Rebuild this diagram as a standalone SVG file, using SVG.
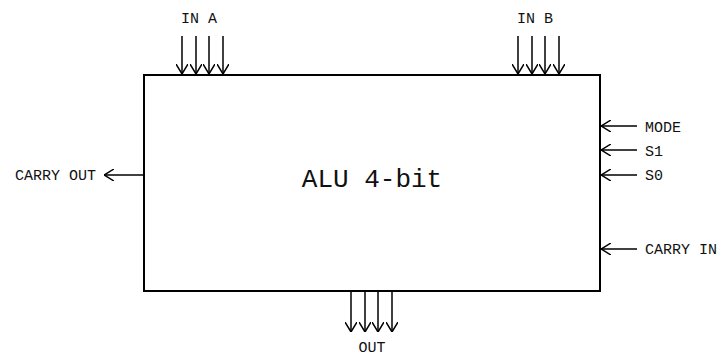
<svg xmlns="http://www.w3.org/2000/svg" width="721" height="356" viewBox="0 0 721 356">
<defs>
<marker id="ah" viewBox="0 0 10 12" refX="10" refY="6" markerWidth="10" markerHeight="12" markerUnits="userSpaceOnUse" orient="auto">
<path d="M0,0 L10,6 L0,12" fill="none" stroke="#000" stroke-width="1.5"/>
</marker>
<style>
.w{stroke:#000;stroke-width:1.5;fill:none;marker-end:url(#ah)}
.t{font-family:"Liberation Mono","DejaVu Sans Mono",monospace;font-size:15px;fill:#111}
.big{font-family:"Liberation Mono","DejaVu Sans Mono",monospace;font-size:26px;fill:#111}
</style>
</defs>
<rect width="721" height="356" fill="#fff"/>
<g id="alu">
<rect x="144" y="75" width="456" height="216" fill="#fff" stroke="#000" stroke-width="2"/>
<text class="big" x="372" y="187" text-anchor="middle">ALU 4-bit</text>
</g>
<g id="connectors">
<path class="w" d="M182,36V74"/><path class="w" d="M196,36V74"/><path class="w" d="M209,36V74"/><path class="w" d="M223,36V74"/>
<path class="w" d="M518,36V74"/><path class="w" d="M532,36V74"/><path class="w" d="M545,36V74"/><path class="w" d="M559,36V74"/>
<path class="w" d="M351,292V332"/><path class="w" d="M365,292V332"/><path class="w" d="M378,292V332"/><path class="w" d="M392,292V332"/>
<path class="w" d="M637,126H601"/>
<path class="w" d="M637,150H601"/>
<path class="w" d="M637,175H601"/>
<path class="w" d="M637,249H601"/>
<path class="w" d="M143,175H104"/>
</g>
<g id="labels">
<text class="t" x="199" y="23" text-anchor="middle">IN A</text>
<text class="t" x="535" y="23" text-anchor="middle">IN B</text>
<text class="t" x="372" y="352" text-anchor="middle">OUT</text>
<text class="t" x="645" y="132">MODE</text>
<text class="t" x="645" y="156">S1</text>
<text class="t" x="645" y="180">S0</text>
<text class="t" x="645" y="254">CARRY IN</text>
<text class="t" x="96" y="180" text-anchor="end">CARRY OUT</text>
</g>
</svg>
